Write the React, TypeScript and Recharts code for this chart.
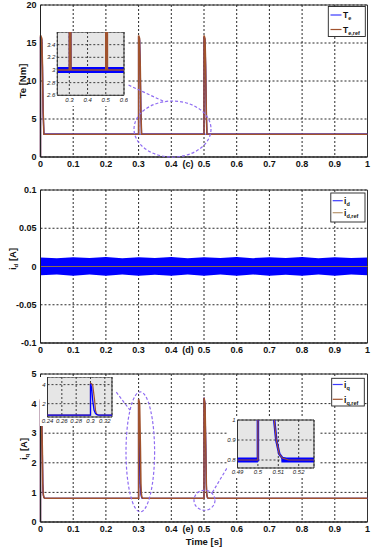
import React from 'react';
import {
  ComposedChart,
  Line,
  Area,
  XAxis,
  YAxis,
  CartesianGrid,
  ReferenceArea,
  ReferenceDot,
  ReferenceLine,
} from 'recharts';

const FONT = '"Liberation Sans", Arial, Helvetica, sans-serif';
const BLUE = '#0000ff';
const BROWN = '#a0522d';
const IDREF = '#8c6d50';
const PURPLE = '#8f6cf2';
const GRID = '#111111';
const INSET_BG = '#e6e6e6';

// ---------- shared ----------
const timeTicks = [0, 0.1, 0.2, 0.3, 0.4, 0.5, 0.6, 0.7, 0.8, 0.9, 1];

// ---------- (c) electromagnetic torque ----------
const teTicks = [0, 5, 10, 15, 20];
const teRefTime = [0, 0, 0.004, 0.006, 0.008, 0.0105, 0.3, 0.3, 0.303, 0.305, 0.307, 0.309, 0.5, 0.5, 0.503, 0.505, 0.507, 0.509, 1];
const teRefValue = [0, 16, 15.6, 12, 6, 3, 3, 16, 15.6, 12, 6, 3, 3, 16, 15.6, 12, 6, 3, 3];
const teTime = [0, 0, 0.004, 0.006, 0.008, 0.0105, 0.3, 0.3, 0.303, 0.305, 0.307, 0.309, 0.5, 0.5, 0.503, 0.505, 0.507, 0.509, 1];
const teValue = [0, 15.8, 15.4, 11.8, 5.9, 3, 3, 15.8, 15.4, 11.8, 5.9, 3, 3, 15.8, 15.4, 11.8, 5.9, 3, 3];
const teBandTime = [0.0105, 0.3, 0.5, 1];
const teBandLow = [2.952, 2.952, 2.952, 2.952];
const teBandHigh = [3.048, 3.048, 3.048, 3.048];
const teZoomTimeTicks = [0.3, 0.4, 0.5, 0.6];
const teZoomTicks = [2.6, 2.8, 3, 3.2, 3.4];

// ---------- (d) d-axis current ----------
const idTicks = [-0.1, -0.05, 0, 0.05, 0.1];
const idBandTime = [0, 0.05, 0.1, 0.15, 0.2, 0.25, 0.3, 0.35, 0.4, 0.45, 0.5, 0.55, 0.6, 0.65, 0.7, 0.75, 0.8, 0.85, 0.9, 0.95, 1];
const idBandHigh = [0.0118, 0.0108, 0.0122, 0.011, 0.0124, 0.0109, 0.0122, 0.0111, 0.0123, 0.0108, 0.0122, 0.011, 0.0124, 0.0109, 0.0122, 0.011, 0.0123, 0.0108, 0.0122, 0.011, 0.0118];
const idBandLow = [-0.0115, -0.0104, -0.012, -0.0106, -0.0121, -0.0105, -0.012, -0.0107, -0.0121, -0.0105, -0.012, -0.0106, -0.0121, -0.0105, -0.012, -0.0107, -0.0121, -0.0105, -0.012, -0.0106, -0.0115];
const idRefTime = [0, 1];
const idRefValue = [0, 0];

// ---------- (e) q-axis current ----------
const iqTicks = [0, 1, 2, 3, 4, 5];
const iqRefTime = [0, 0, 0.003, 0.0055, 0.007, 0.008, 0.009, 0.0105, 0.012, 0.015, 0.3, 0.3, 0.303, 0.3055, 0.307, 0.308, 0.309, 0.3105, 0.312, 0.315, 0.5, 0.5, 0.503, 0.5055, 0.507, 0.508, 0.509, 0.5105, 0.512, 0.515, 1];
const iqRefValue = [0, 4.15, 4.0, 2.5, 1.3, 1.0, 0.9, 0.83, 0.81, 0.8, 0.8, 4.15, 4.0, 2.5, 1.3, 1.0, 0.9, 0.83, 0.81, 0.8, 0.8, 4.2, 4.0, 2.5, 1.3, 1.0, 0.9, 0.83, 0.81, 0.8, 0.8];
const iqTime = [0, 0, 0.003, 0.0055, 0.007, 0.008, 0.009, 0.0105, 0.012, 0.015, 0.3, 0.3, 0.3015, 0.303, 0.305, 0.307, 0.309, 0.311, 0.5, 0.5, 0.503, 0.5055, 0.507, 0.508, 0.509, 0.5105, 0.512, 0.515, 1];
const iqValue = [0, 4.1, 3.9, 2.5, 1.3, 1.0, 0.9, 0.83, 0.81, 0.8, 0.8, 4.1, 3.7, 2.4, 1.3, 0.95, 0.84, 0.8, 0.8, 4.2, 4.0, 2.5, 1.3, 1.0, 0.9, 0.83, 0.81, 0.8, 0.8];
const iqBandTime = [0.015, 0.3, 0.3, 0.311, 0.5, 0.5, 0.5115, 1];
const iqBandLow = [0.788, 0.788, null, 0.788, 0.788, null, 0.788, 0.788];
const iqBandHigh = [0.812, 0.812, null, 0.812, 0.812, null, 0.812, 0.812];
const iqZoomATimeTicks = [0.24, 0.26, 0.28, 0.3, 0.32];
const iqZoomATicks = [2, 4];
const iqZoomBTimeTicks = [0.49, 0.5, 0.51, 0.52];
const iqZoomBTicks = [0.8, 0.9, 1];

// ---------- helpers ----------
const zip = (ts: number[], vs: number[]) => ts.map((t, i) => ({ t, v: vs[i] }));
const band = (ts: number[], lo: (number | null)[], hi: (number | null)[]) =>
  ts.map((t, i) => ({ t, r: lo[i] == null || hi[i] == null ? null : [lo[i], hi[i]] }));

const teRefData = zip(teRefTime, teRefValue);
const teData = zip(teTime, teValue);
const teBandData = band(teBandTime, teBandLow, teBandHigh);
const idBandData = band(idBandTime, idBandLow, idBandHigh);
const idRefData = zip(idRefTime, idRefValue);
const iqRefData = zip(iqRefTime, iqRefValue);
const iqData = zip(iqTime, iqValue);
const iqBandData = band(iqBandTime, iqBandLow, iqBandHigh);

const mainTick = { fontSize: 9, fontWeight: 'bold', fill: '#111', fontFamily: FONT };
const insetTick = { fontSize: 6, fontStyle: 'italic', fill: '#222', fontFamily: FONT };
const fmt = (v: number) => String(v);

const ellipseShape = (rx: number, ry: number) => (p: any) => (
  <ellipse cx={p.cx} cy={p.cy} rx={rx} ry={ry} fill="none" stroke={PURPLE} strokeWidth={1.2} strokeDasharray="3 2" />
);

const panelLabel = (text: string) => ({
  value: text,
  position: 'bottom' as const,
  offset: 4,
  fontSize: 9,
  fontWeight: 'bold',
  fill: '#111',
  fontFamily: FONT,
});

function LegendBox(props: {
  x: number; y: number; w: number; h: number; lx1: number; lx2: number; tx: number;
  items: { color: string; main: string; sub: string; ly: number }[];
}) {
  const { x, y, w, h, lx1, lx2, tx, items } = props;
  return (
    <g>
      <rect x={x} y={y} width={w} height={h} fill="#fff" stroke="#222" strokeWidth={0.9} />
      {items.map((it, i) => (
        <g key={i}>
          <line x1={lx1} x2={lx2} y1={it.ly} y2={it.ly} stroke={it.color} strokeWidth={1.2} />
          <text x={tx} y={it.ly + 3.2} fontSize={8.5} fontWeight="bold" fontFamily={FONT} fill="#111">
            {it.main}
            <tspan fontSize={5.5} dy={2.2}>{it.sub}</tspan>
          </text>
        </g>
      ))}
    </g>
  );
}

function RotLabel(props: { x: number; y: number; main: string; sub?: string; rest: string }) {
  const { x, y, main, sub, rest } = props;
  return (
    <text
      transform={`translate(${x},${y}) rotate(-90)`}
      textAnchor="middle"
      fontSize={9.5}
      fontWeight="bold"
      fontFamily={FONT}
      fill="#111"
    >
      {main}
      {sub ? <tspan fontSize={6} dy={2.2}>{sub}</tspan> : null}
      <tspan dy={sub ? -2.2 : 0}>{rest}</tspan>
    </text>
  );
}

export default function App() {
  return (
    <div style={{ position: 'absolute', left: 0, top: 0, width: 373, height: 550, background: '#fff', overflow: 'hidden' }}>
      {/* ---------------- (c) Te ---------------- */}
      <div style={{ position: 'absolute', left: 0, top: 0 }}>
        <ComposedChart width={373} height={180} margin={{ top: 5, right: 5.5, bottom: 0, left: 0 }}>
          <CartesianGrid strokeDasharray="2 2" stroke={GRID} strokeWidth={0.9} />
          <XAxis type="number" dataKey="t" domain={[0, 1]} ticks={timeTicks} interval={0} tickFormatter={fmt}
            height={23} tickLine={false} tickSize={4} tickMargin={0} axisLine={{ stroke: '#222' }} tick={mainTick} />
          <YAxis type="number" domain={[0, 20]} ticks={teTicks} interval={0} width={40.5}
            tickLine={false} tickSize={4} tickMargin={0} axisLine={{ stroke: '#222' }} tick={mainTick} />
          <Area data={teBandData} dataKey="r" stroke="none" fill={BLUE} fillOpacity={1} isAnimationActive={false} />
          <Line data={teData} dataKey="v" stroke={BLUE} strokeWidth={1.3} dot={false} isAnimationActive={false} />
          <Line data={teRefData} dataKey="v" stroke={BROWN} strokeWidth={1.6} dot={false} isAnimationActive={false} />
          <ReferenceArea x1={0} x2={1} y1={0} y2={20} fill="none" stroke="#333" strokeWidth={1} ifOverflow="visible" />
          <ReferenceLine segment={[{ x: 0.2554, y: 9.74 }, { x: 0.3807, y: 7.24 }]} stroke={PURPLE} strokeWidth={1.2} strokeDasharray="3 2" ifOverflow="visible" />
          <ReferenceDot x={0.4037} y={3.68} r={1} ifOverflow="visible" shape={ellipseShape(38.5, 28)} />
          <ReferenceDot x={0.451} y={0} r={0} fill="none" stroke="none" ifOverflow="visible" label={panelLabel('(c)')} />
        </ComposedChart>
      </div>

      {/* ---------------- (d) id ---------------- */}
      <div style={{ position: 'absolute', left: 0, top: 180 }}>
        <ComposedChart width={373} height={180} margin={{ top: 10, right: 5.5, bottom: 0, left: 0 }}>
          <CartesianGrid strokeDasharray="2 2" stroke={GRID} strokeWidth={0.9} />
          <XAxis type="number" dataKey="t" domain={[0, 1]} ticks={timeTicks} interval={0} tickFormatter={fmt}
            height={17} tickLine={false} tickSize={4} tickMargin={0} axisLine={{ stroke: '#222' }} tick={mainTick} />
          <YAxis type="number" domain={[-0.1, 0.1]} ticks={idTicks} interval={0} width={40.5}
            tickLine={false} tickSize={4} tickMargin={0} axisLine={{ stroke: '#222' }} tick={mainTick} />
          <Area data={idBandData} dataKey="r" stroke="none" fill={BLUE} fillOpacity={1} isAnimationActive={false} />
          <Line data={idRefData} dataKey="v" stroke={IDREF} strokeWidth={1.2} dot={false} isAnimationActive={false} />
          <ReferenceArea x1={0} x2={1} y1={-0.1} y2={0.1} fill="none" stroke="#333" strokeWidth={1} ifOverflow="visible" />
          <ReferenceDot x={0.451} y={-0.1} r={0} fill="none" stroke="none" ifOverflow="visible" label={panelLabel('(d)')} />
        </ComposedChart>
      </div>

      {/* ---------------- (e) iq ---------------- */}
      <div style={{ position: 'absolute', left: 0, top: 360 }}>
        <ComposedChart width={373} height={190} margin={{ top: 14, right: 5.5, bottom: 0, left: 0 }}>
          <CartesianGrid strokeDasharray="2 2" stroke={GRID} strokeWidth={0.9} />
          <XAxis type="number" dataKey="t" domain={[0, 1]} ticks={timeTicks} interval={0} tickFormatter={fmt}
            height={28} tickLine={false} tickSize={4} tickMargin={0} axisLine={{ stroke: '#222' }} tick={mainTick}
            label={{ value: 'Time [s]', position: 'insideBottom', offset: 5.5, fontSize: 9.5, fontWeight: 'bold', fill: '#111', fontFamily: FONT }} />
          <YAxis type="number" domain={[0, 5]} ticks={iqTicks} interval={0} width={40.5}
            tickLine={false} tickSize={4} tickMargin={0} axisLine={{ stroke: '#222' }} tick={mainTick} />
          <Area data={iqBandData} dataKey="r" stroke="none" fill={BLUE} fillOpacity={1} isAnimationActive={false} />
          <Line data={iqData} dataKey="v" stroke={BLUE} strokeWidth={1.3} dot={false} isAnimationActive={false} />
          <Line data={iqRefData} dataKey="v" stroke={BROWN} strokeWidth={1.6} dot={false} isAnimationActive={false} />
          <ReferenceArea x1={0} x2={1} y1={0} y2={5} fill="none" stroke="#333" strokeWidth={1} ifOverflow="visible" />
          <ReferenceLine segment={[{ x: 0.2226, y: 4.52 }, { x: 0.2737, y: 3.78 }]} stroke={PURPLE} strokeWidth={1.2} strokeDasharray="3 2" ifOverflow="visible" />
          <ReferenceDot x={0.3052} y={2.37} r={1} ifOverflow="visible" shape={ellipseShape(14.3, 60)} />
          <ReferenceLine segment={[{ x: 0.601, y: 2.39 }, { x: 0.524, y: 0.97 }]} stroke={PURPLE} strokeWidth={1.2} strokeDasharray="3 2" ifOverflow="visible" />
          <ReferenceDot x={0.5015} y={0.734} r={1} ifOverflow="visible" shape={ellipseShape(10.5, 10)} />
          <ReferenceDot x={0.451} y={0} r={0} fill="none" stroke="none" ifOverflow="visible" label={panelLabel('(e)')} />
        </ComposedChart>
      </div>

      {/* ---------------- inset: Te zoom ---------------- */}
      <div style={{ position: 'absolute', left: 44, top: 31.7, background: '#fff' }}>
        <ComposedChart width={84} height={74} margin={{ top: 0, right: 4, bottom: 0, left: 0 }}>
          <CartesianGrid fill={INSET_BG} fillOpacity={1} strokeDasharray="2 2" stroke={GRID} strokeWidth={0.8} />
          <XAxis type="number" dataKey="t" domain={[0.234, 0.6]} ticks={teZoomTimeTicks} interval={0} allowDataOverflow
            tickFormatter={fmt} height={10.7} tickLine={false} axisLine={false} tickSize={2} tickMargin={0} tick={insetTick} />
          <YAxis type="number" domain={[2.6, 3.6]} ticks={teZoomTicks} interval={0} allowDataOverflow width={13.3}
            tickFormatter={fmt} tickLine={false} axisLine={false} tickSize={2} tickMargin={0} tick={insetTick} />
          <Area data={teBandData} dataKey="r" stroke="none" fill={BLUE} fillOpacity={1} isAnimationActive={false} />
          <Line data={teData} dataKey="v" stroke={BLUE} strokeWidth={1.2} dot={false} isAnimationActive={false} />
          <Line data={teRefData} dataKey="v" stroke={BROWN} strokeWidth={1.6} dot={false} isAnimationActive={false} />
          <ReferenceArea x1={0.234} x2={0.6} y1={2.6} y2={3.6} fill="none" stroke="#333" strokeWidth={1} ifOverflow="visible" />
        </ComposedChart>
      </div>

      {/* ---------------- inset: iq zoom A ---------------- */}
      <div style={{ position: 'absolute', left: 40, top: 377, background: '#fff' }}>
        <ComposedChart width={76} height={49} margin={{ top: 0, right: 4, bottom: 0, left: 0 }}>
          <CartesianGrid fill={INSET_BG} fillOpacity={1} strokeDasharray="2 2" stroke={GRID} strokeWidth={0.8} />
          <XAxis type="number" dataKey="t" domain={[0.24, 0.33]} ticks={iqZoomATimeTicks} interval={0} allowDataOverflow
            tickFormatter={fmt} height={9} tickLine={false} axisLine={false} tickSize={2} tickMargin={0} tick={insetTick} />
          <YAxis type="number" domain={[0.6, 4.8]} ticks={iqZoomATicks} interval={0} allowDataOverflow width={7.5}
            tickFormatter={fmt} tickLine={false} axisLine={false} tickSize={2} tickMargin={0} tick={insetTick} />
          <Line data={iqRefData} dataKey="v" stroke={BROWN} strokeWidth={1.2} dot={false} isAnimationActive={false} />
          <Line data={iqData} dataKey="v" stroke={BLUE} strokeWidth={1.3} dot={false} isAnimationActive={false} />
          <ReferenceArea x1={0.24} x2={0.33} y1={0.6} y2={4.8} fill="none" stroke="#333" strokeWidth={1} ifOverflow="visible" />
        </ComposedChart>
      </div>

      {/* ---------------- inset: iq zoom B ---------------- */}
      <div style={{ position: 'absolute', left: 227, top: 417, background: '#fff' }}>
        <ComposedChart width={92} height={60} margin={{ top: 3, right: 5, bottom: 0, left: 0 }}>
          <CartesianGrid fill={INSET_BG} fillOpacity={1} strokeDasharray="2 2" stroke={GRID} strokeWidth={0.8} />
          <XAxis type="number" dataKey="t" domain={[0.49, 0.5275]} ticks={iqZoomBTimeTicks} interval={0} allowDataOverflow
            tickFormatter={fmt} height={9} tickLine={false} axisLine={false} tickSize={2} tickMargin={0} tick={insetTick} />
          <YAxis type="number" domain={[0.76, 1]} ticks={iqZoomBTicks} interval={0} allowDataOverflow width={10.5}
            tickFormatter={fmt} tickLine={false} axisLine={false} tickSize={2} tickMargin={0} tick={insetTick} />
          <Area data={iqBandData} dataKey="r" stroke="none" fill={BLUE} fillOpacity={1} isAnimationActive={false} />
          <Line data={iqData} dataKey="v" stroke={BLUE} strokeWidth={2.5} dot={false} isAnimationActive={false} />
          <Line data={iqRefData} dataKey="v" stroke={BROWN} strokeWidth={1.2} dot={false} isAnimationActive={false} />
          <ReferenceArea x1={0.49} x2={0.5275} y1={0.76} y2={1} fill="none" stroke="#333" strokeWidth={1} ifOverflow="visible" />
        </ComposedChart>
      </div>

      {/* ---------------- legends & axis titles ---------------- */}
      <svg width={373} height={550} style={{ position: 'absolute', left: 0, top: 0, pointerEvents: 'none' }}>
        <RotLabel x={26} y={81} main="Te [Nm]" rest="" />
        <RotLabel x={15.5} y={259} main="i" sub="d" rest=" [A]" />
        <RotLabel x={27} y={449} main="i" sub="q" rest=" [A]" />
        <LegendBox x={328.3} y={6.5} w={37} h={30} lx1={330.5} lx2={341.5} tx={343}
          items={[
            { color: '#3b3bff', main: 'T', sub: 'e', ly: 15 },
            { color: BROWN, main: 'T', sub: 'e,ref', ly: 29.5 },
          ]} />
        <LegendBox x={330.8} y={193} w={34.2} h={29} lx1={332.7} lx2={342.7} tx={344}
          items={[
            { color: '#3b3bff', main: 'i', sub: 'd', ly: 200.7 },
            { color: '#b8966e', main: 'i', sub: 'd,ref', ly: 212.7 },
          ]} />
        <LegendBox x={331.7} y={378.3} w={32.6} h={27.7} lx1={332.7} lx2={342.7} tx={344}
          items={[
            { color: '#3b3bff', main: 'i', sub: 'q', ly: 384.5 },
            { color: BROWN, main: 'i', sub: 'q,ref', ly: 399.3 },
          ]} />
      </svg>
    </div>
  );
}
